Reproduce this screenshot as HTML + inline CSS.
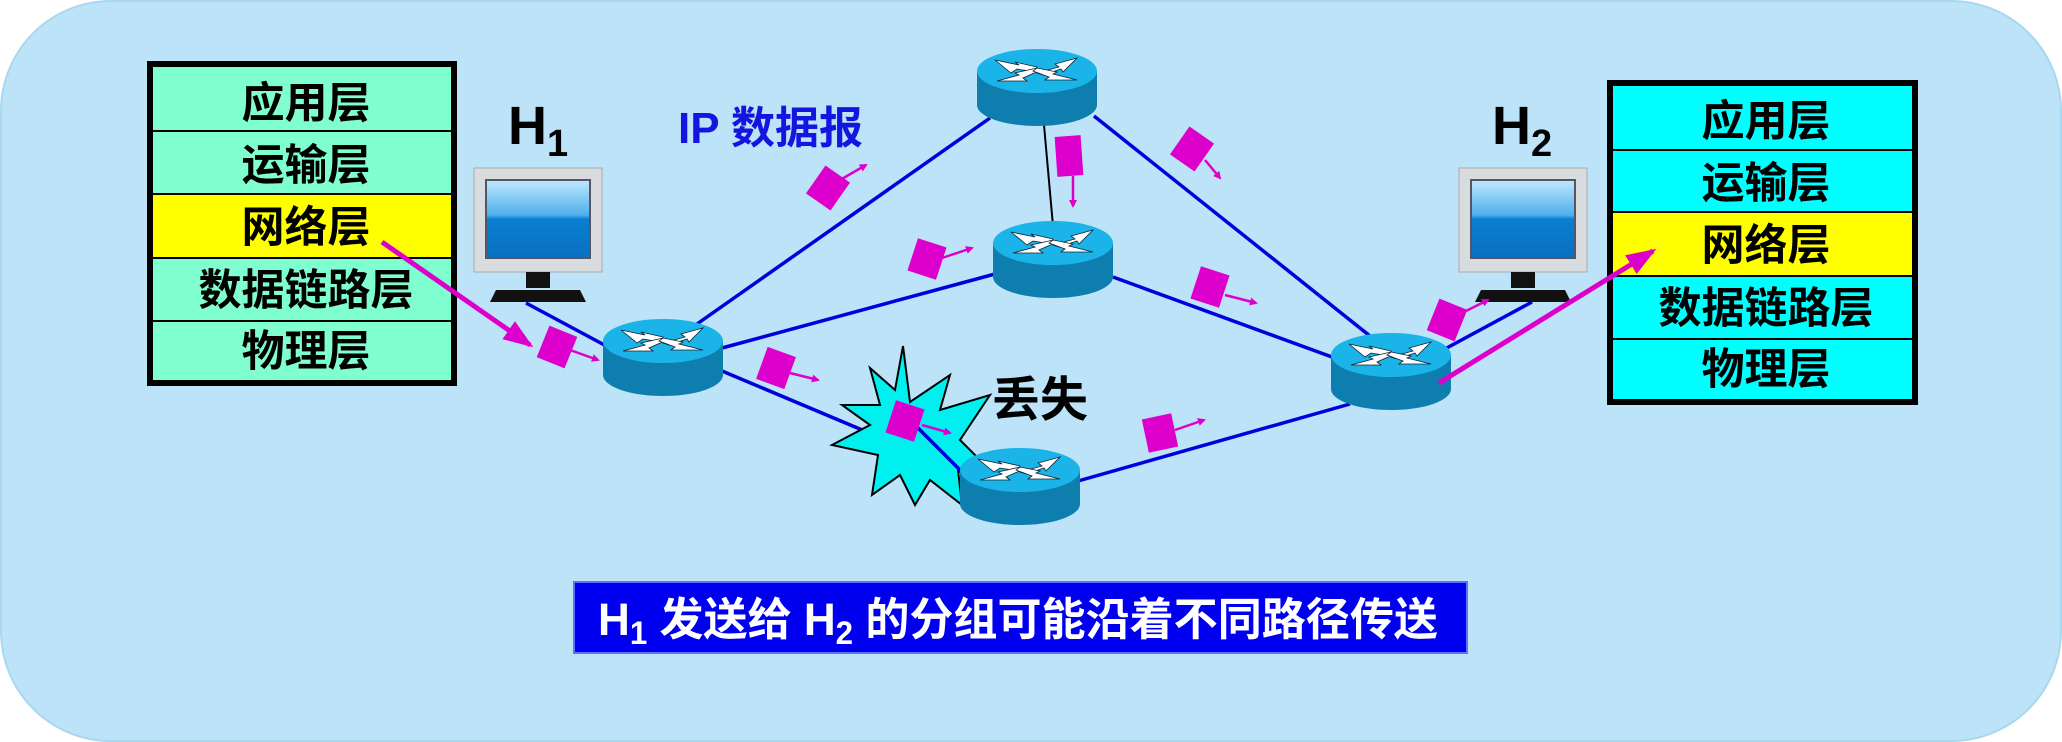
<!DOCTYPE html>
<html><head><meta charset="utf-8"><style>
html,body{margin:0;padding:0;background:#fff;}
svg{display:block}
text{font-family:"Liberation Sans","Noto Sans CJK SC",sans-serif;font-weight:bold}
</style></head><body>
<svg width="2062" height="742" viewBox="0 0 2062 742" xmlns="http://www.w3.org/2000/svg">
<defs>
<linearGradient id="scr" x1="0" y1="0" x2="0" y2="1"><stop offset="0" stop-color="#bfe8ff"/><stop offset="0.45" stop-color="#4fb0ea"/><stop offset="0.5" stop-color="#0a7fd0"/><stop offset="1" stop-color="#0a70c0"/></linearGradient>
<g id="rt">
<path d="M-60 0 V34 A60 21 0 0 0 60 34 V0 Z" fill="#0e7eae"/>
<ellipse cx="0" cy="0" rx="60" ry="22" fill="#1ab4e8"/>
<g fill="#fff" stroke="#123" stroke-width="0.8">
<polygon points="-42,-11 -18,-6 -22,-9 0,-4 -2,1 -20,-2 -26,2"/>
<polygon points="40,-13 18,-7 22,-4 0,2 6,4 24,-2 26,1"/>
<polygon points="-40,10 -18,4 -22,2 0,-3 4,-1 -14,7 -10,10"/>
<polygon points="40,9 16,3 20,1 0,-3 -4,0 12,6 8,9"/>
</g>
</g>
<g id="pc">
<rect x="0" y="0" width="128" height="104" fill="#d8dcdf" stroke="#aaa"/>
<rect x="12" y="12" width="104" height="78" fill="url(#scr)" stroke="#556" stroke-width="2"/>
<rect x="52" y="104" width="24" height="16" fill="#111"/>
<path d="M22 122 H106 L112 134 H16 Z" fill="#111"/>
</g>
<g id="pk"><rect x="-15" y="-17" width="30" height="34" fill="#dd00cc"/></g>
<marker id="ah" markerWidth="8" markerHeight="8" refX="6" refY="4" orient="auto" markerUnits="userSpaceOnUse"><path d="M0 0 L8 4 L0 8Z" fill="#dd00cc"/></marker>
<marker id="ahb" markerWidth="30" markerHeight="22" refX="26" refY="11" orient="auto" markerUnits="userSpaceOnUse"><path d="M0 0 L30 11 L0 22Z" fill="#dd00cc"/></marker>
</defs>
<rect x="1" y="1" width="2060" height="740" rx="110" fill="#bde3f8" stroke="#a8d8f0" stroke-width="2"/>

<!-- left stack -->
<rect x="147" y="61" width="310" height="325" fill="#000"/>
<rect x="153" y="67" width="298" height="63" fill="#7fffcf"/>
<rect x="153" y="132" width="298" height="61" fill="#7fffcf"/>
<rect x="153" y="195" width="298" height="62" fill="#ffff00"/>
<rect x="153" y="259" width="298" height="61" fill="#7fffcf"/>
<rect x="153" y="322" width="298" height="58" fill="#7fffcf"/>
<g font-size="43" text-anchor="middle" fill="#000">
<text x="306" y="118">应用层</text>
<text x="306" y="180">运输层</text>
<text x="306" y="242">网络层</text>
<text x="306" y="305">数据链路层</text>
<text x="306" y="366">物理层</text>
</g>
<!-- right stack -->
<rect x="1607" y="80" width="311" height="325" fill="#000"/>
<rect x="1613" y="86" width="299" height="63" fill="#00ffff"/>
<rect x="1613" y="151" width="299" height="60" fill="#00ffff"/>
<rect x="1613" y="213" width="299" height="62" fill="#ffff00"/>
<rect x="1613" y="277" width="299" height="61" fill="#00ffff"/>
<rect x="1613" y="340" width="299" height="59" fill="#00ffff"/>
<g font-size="43" text-anchor="middle" fill="#000">
<text x="1766" y="136">应用层</text>
<text x="1766" y="198">运输层</text>
<text x="1766" y="260">网络层</text>
<text x="1766" y="323">数据链路层</text>
<text x="1766" y="384">物理层</text>
</g>

<!-- lines -->
<g stroke="#0000dd" stroke-width="3.5">
<line x1="526" y1="303" x2="610" y2="348"/>
<line x1="697" y1="324" x2="990" y2="118"/>
<line x1="722" y1="348" x2="995" y2="274"/>
<line x1="722" y1="371" x2="962" y2="472"/>
<line x1="1094" y1="116" x2="1375" y2="340"/>
<line x1="1113" y1="277" x2="1332" y2="357"/>
<line x1="1078" y1="481" x2="1350" y2="404"/>
<line x1="1443" y1="350" x2="1532" y2="302"/>
</g>
<line x1="1044" y1="125" x2="1053" y2="226" stroke="#000" stroke-width="2"/>

<!-- starburst -->
<polygon points="903,346 910,402 950,375 940,410 990,395 960,440 980,460 958,470 962,505 930,480 915,505 900,475 872,495 878,455 832,445 870,425 842,405 880,405 870,368 895,390" fill="#00f0f0" stroke="#000" stroke-width="2"/>
<line x1="910" y1="420" x2="962" y2="472" stroke="#0000dd" stroke-width="3.5"/>

<!-- routers -->
<use href="#rt" x="663" y="341"/>
<use href="#rt" x="1037" y="71"/>
<use href="#rt" x="1053" y="243"/>
<use href="#rt" x="1020" y="470"/>
<use href="#rt" x="1391" y="355"/>

<!-- computers -->
<use href="#pc" x="474" y="168"/>
<use href="#pc" x="1459" y="168"/>

<!-- texts -->
<text x="508" y="144" font-size="54" fill="#000">H<tspan font-size="38" dy="12">1</tspan></text>
<text x="1492" y="144" font-size="54" fill="#000">H<tspan font-size="38" dy="12">2</tspan></text>
<text x="678" y="143" font-size="44" fill="#1515e0">IP 数据报</text>
<text x="992" y="416" font-size="48" fill="#000">丢失</text>

<!-- packets -->
<g stroke="#dd00cc" stroke-width="2.5" marker-end="url(#ah)">
<line x1="570" y1="350" x2="598" y2="360"/>
<line x1="840" y1="180" x2="866" y2="165"/>
<line x1="942" y1="258" x2="972" y2="248"/>
<line x1="790" y1="373" x2="818" y2="380"/>
<line x1="922" y1="425" x2="950" y2="433"/>
<line x1="1073" y1="176" x2="1073" y2="206"/>
<line x1="1205" y1="160" x2="1220" y2="178"/>
<line x1="1225" y1="295" x2="1256" y2="303"/>
<line x1="1175" y1="430" x2="1204" y2="420"/>
<line x1="1460" y1="314" x2="1488" y2="300"/>
</g>
<use href="#pk" transform="translate(557,347) rotate(22)"/>
<use href="#pk" transform="translate(828,188) rotate(35)"/>
<use href="#pk" transform="translate(927,259) rotate(18)"/>
<use href="#pk" transform="translate(776,368) rotate(20)"/>
<use href="#pk" transform="translate(905,421) rotate(18)"/>
<g transform="translate(1069,156)"><rect x="-13" y="-20" width="26" height="40" fill="#dd00cc" transform="rotate(-4)"/></g>
<use href="#pk" transform="translate(1192,149) rotate(35)"/>
<use href="#pk" transform="translate(1210,287) rotate(18)"/>
<use href="#pk" transform="translate(1160,433) rotate(-12)"/>
<use href="#pk" transform="translate(1447,320) rotate(22)"/>

<!-- big magenta arrows -->
<line x1="382" y1="242" x2="530" y2="345" stroke="#dd00cc" stroke-width="5" marker-end="url(#ahb)"/>
<line x1="1439" y1="383" x2="1653" y2="251" stroke="#dd00cc" stroke-width="5" marker-end="url(#ahb)"/>

<!-- banner -->
<rect x="574" y="582" width="893" height="71" fill="#0000ee" stroke="#6070ff" stroke-width="2"/>
<text x="598" y="635" font-size="45" fill="#fff" textLength="840" lengthAdjust="spacingAndGlyphs">H<tspan font-size="32" dy="9">1</tspan><tspan dy="-9"> 发送给 H</tspan><tspan font-size="32" dy="9">2</tspan><tspan dy="-9"> 的分组可能沿着不同路径传送</tspan></text>
</svg>
</body></html>
